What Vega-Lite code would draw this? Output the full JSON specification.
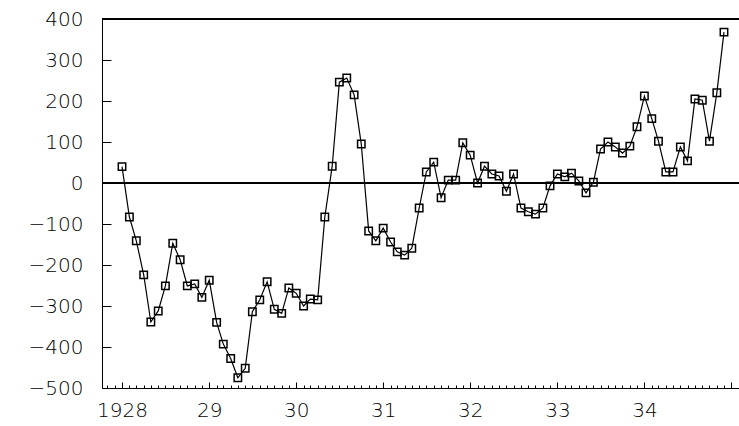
{
  "$schema": "https://vega.github.io/schema/vega-lite/v6.json",
  "width": 637,
  "height": 369,
  "autosize": {"type": "none"},
  "padding": {"left": 102, "top": 19, "right": 0, "bottom": 38},
  "background": "white",
  "config": {
    "view": {"stroke": null},
    "axis": {
      "labelFont": "DejaVu Sans",
      "labelFontSize": 20,
      "labelFontWeight": 200,
      "labelColor": "black",
      "domainColor": "black",
      "tickColor": "black",
      "grid": false,
      "title": null
    }
  },
  "data": {
    "values": [
      {"month": "1928/01/01", "value": 40}, {"month": "1928/02/01", "value": -83}, {"month": "1928/03/01", "value": -141}, {"month": "1928/04/01", "value": -224},
      {"month": "1928/05/01", "value": -339}, {"month": "1928/06/01", "value": -312}, {"month": "1928/07/01", "value": -251}, {"month": "1928/08/01", "value": -147},
      {"month": "1928/09/01", "value": -187}, {"month": "1928/10/01", "value": -251}, {"month": "1928/11/01", "value": -246}, {"month": "1928/12/01", "value": -279},
      {"month": "1929/01/01", "value": -237}, {"month": "1929/02/01", "value": -340}, {"month": "1929/03/01", "value": -393}, {"month": "1929/04/01", "value": -428},
      {"month": "1929/05/01", "value": -475}, {"month": "1929/06/01", "value": -452}, {"month": "1929/07/01", "value": -314}, {"month": "1929/08/01", "value": -285},
      {"month": "1929/09/01", "value": -241}, {"month": "1929/10/01", "value": -308}, {"month": "1929/11/01", "value": -318}, {"month": "1929/12/01", "value": -256},
      {"month": "1930/01/01", "value": -269}, {"month": "1930/02/01", "value": -300}, {"month": "1930/03/01", "value": -283}, {"month": "1930/04/01", "value": -285},
      {"month": "1930/05/01", "value": -83}, {"month": "1930/06/01", "value": 41}, {"month": "1930/07/01", "value": 246}, {"month": "1930/08/01", "value": 256},
      {"month": "1930/09/01", "value": 215}, {"month": "1930/10/01", "value": 95}, {"month": "1930/11/01", "value": -117}, {"month": "1930/12/01", "value": -141},
      {"month": "1931/01/01", "value": -110}, {"month": "1931/02/01", "value": -144}, {"month": "1931/03/01", "value": -168}, {"month": "1931/04/01", "value": -176},
      {"month": "1931/05/01", "value": -159}, {"month": "1931/06/01", "value": -61}, {"month": "1931/07/01", "value": 27}, {"month": "1931/08/01", "value": 51},
      {"month": "1931/09/01", "value": -36}, {"month": "1931/10/01", "value": 7}, {"month": "1931/11/01", "value": 7}, {"month": "1931/12/01", "value": 98},
      {"month": "1932/01/01", "value": 68}, {"month": "1932/02/01", "value": 0}, {"month": "1932/03/01", "value": 41}, {"month": "1932/04/01", "value": 22},
      {"month": "1932/05/01", "value": 17}, {"month": "1932/06/01", "value": -20}, {"month": "1932/07/01", "value": 22}, {"month": "1932/08/01", "value": -61},
      {"month": "1932/09/01", "value": -70}, {"month": "1932/10/01", "value": -76}, {"month": "1932/11/01", "value": -61}, {"month": "1932/12/01", "value": -7},
      {"month": "1933/01/01", "value": 22}, {"month": "1933/02/01", "value": 15}, {"month": "1933/03/01", "value": 24}, {"month": "1933/04/01", "value": 5},
      {"month": "1933/05/01", "value": -24}, {"month": "1933/06/01", "value": 2}, {"month": "1933/07/01", "value": 83}, {"month": "1933/08/01", "value": 100},
      {"month": "1933/09/01", "value": 88}, {"month": "1933/10/01", "value": 73}, {"month": "1933/11/01", "value": 90}, {"month": "1933/12/01", "value": 137},
      {"month": "1934/01/01", "value": 212}, {"month": "1934/02/01", "value": 157}, {"month": "1934/03/01", "value": 102}, {"month": "1934/04/01", "value": 27},
      {"month": "1934/05/01", "value": 27}, {"month": "1934/06/01", "value": 88}, {"month": "1934/07/01", "value": 54}, {"month": "1934/08/01", "value": 205},
      {"month": "1934/09/01", "value": 202}, {"month": "1934/10/01", "value": 102}, {"month": "1934/11/01", "value": 220}, {"month": "1934/12/01", "value": 368}
    ]
  },
  "encoding": {
    "x": {
      "field": "month",
      "type": "temporal",
      "scale": {"domain": [{"year": 1927, "month": 10, "date": 9}, {"year": 1935, "month": 2, "date": 2}]},
      "axis": {
        "tickCount": {"interval": "month", "step": 1},
        "labelExpr": "month(datum.value) == 0 && year(datum.value) <= 1934 ? (year(datum.value) == 1928 ? '1928' : timeFormat(datum.value, '%y')) : ''",
        "tickSize": {"condition": {"test": "month(datum.value) == 0", "value": -6}, "value": -3},
        "labelOverlap": false,
        "labelFlush": false,
        "labelBound": false,
        "labelPadding": 18
      }
    },
    "y": {
      "field": "value",
      "type": "quantitative",
      "scale": {"domain": [-500, 400], "nice": false, "zero": false},
      "axis": {
        "values": [-500, -400, -300, -200, -100, 0, 100, 200, 300, 400],
        "tickSize": -9,
        "labelPadding": 28
      }
    }
  },
  "layer": [
    {"mark": {"type": "rule", "color": "black", "strokeWidth": 1.5}, "encoding": {"x": null, "y": {"datum": 400, "type": "quantitative"}}},
    {"mark": {"type": "rule", "color": "black", "strokeWidth": 1.5}, "encoding": {"x": null, "y": {"datum": 0, "type": "quantitative"}}},
    {"mark": {"type": "line", "color": "black", "strokeWidth": 1.2}},
    {"mark": {"type": "point", "shape": "square", "filled": false, "size": 55, "color": "black", "strokeWidth": 1.5, "opacity": 1}}
  ]
}
